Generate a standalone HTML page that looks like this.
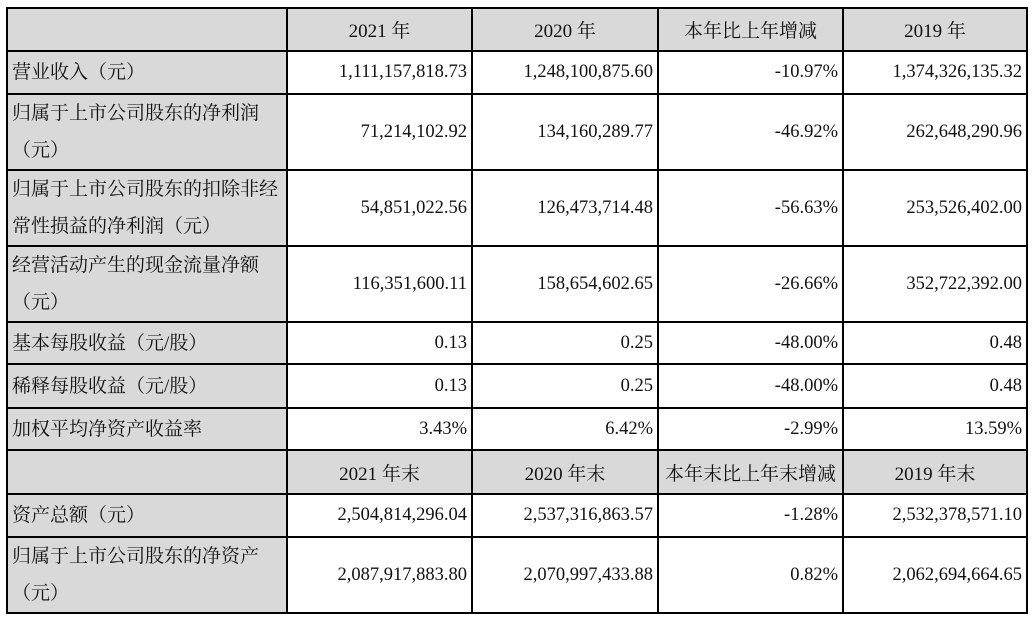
<!DOCTYPE html>
<html><head><meta charset="utf-8"><style>
body{margin:0;width:1034px;height:620px;background:#fff;position:relative;overflow:hidden;font-family:"Liberation Serif","Noto Serif CJK SC",serif;color:#111}
.c{position:absolute;box-sizing:border-box;border:2px solid #000;margin:-1px 0 0 -1px;display:flex;align-items:center;font-size:18.5px;padding:0 4px}
.g{background:#d9d9d9}
.l{font-size:19px;line-height:37px;padding-left:4px;align-items:center}
.r{justify-content:flex-end}
.m{justify-content:center}
</style></head><body>
<div id="t"></div>
<script>
const X=[7,287,472,658,843,1027];
const Y=[8,51,94,170,246,322,364,408,450,494,537,613];
const rows=[
["","2021 年","2020 年","本年比上年增减","2019 年",1],
["营业收入（元）","1,111,157,818.73","1,248,100,875.60","-10.97%","1,374,326,135.32"],
["归属于上市公司股东的净利润<br>（元）","71,214,102.92","134,160,289.77","-46.92%","262,648,290.96"],
["归属于上市公司股东的扣除非经<br>常性损益的净利润（元）","54,851,022.56","126,473,714.48","-56.63%","253,526,402.00"],
["经营活动产生的现金流量净额<br>（元）","116,351,600.11","158,654,602.65","-26.66%","352,722,392.00"],
["基本每股收益（元/股）","0.13","0.25","-48.00%","0.48"],
["稀释每股收益（元/股）","0.13","0.25","-48.00%","0.48"],
["加权平均净资产收益率","3.43%","6.42%","-2.99%","13.59%"],
["","2021 年末","2020 年末","本年末比上年末增减","2019 年末",1],
["资产总额（元）","2,504,814,296.04","2,537,316,863.57","-1.28%","2,532,378,571.10"],
["归属于上市公司股东的净资产<br>（元）","2,087,917,883.80","2,070,997,433.88","0.82%","2,062,694,664.65"]];
let h="";
rows.forEach((r,i)=>{for(let j=0;j<5;j++){
let cls="c";const hd=r[5];
if(j==0||hd)cls+=" g";
if(j==0)cls+=" l";else cls+=hd?" m":" r";
h+=`<div class="${cls}" style="left:${X[j]}px;top:${Y[i]}px;width:${X[j+1]-X[j]+2}px;height:${Y[i+1]-Y[i]+2}px">${hd&&j>0?'<span style="font-size:19px">'+r[j]+'</span>':r[j]}</div>`;}});
document.getElementById("t").innerHTML=h;
</script>
</body></html>
